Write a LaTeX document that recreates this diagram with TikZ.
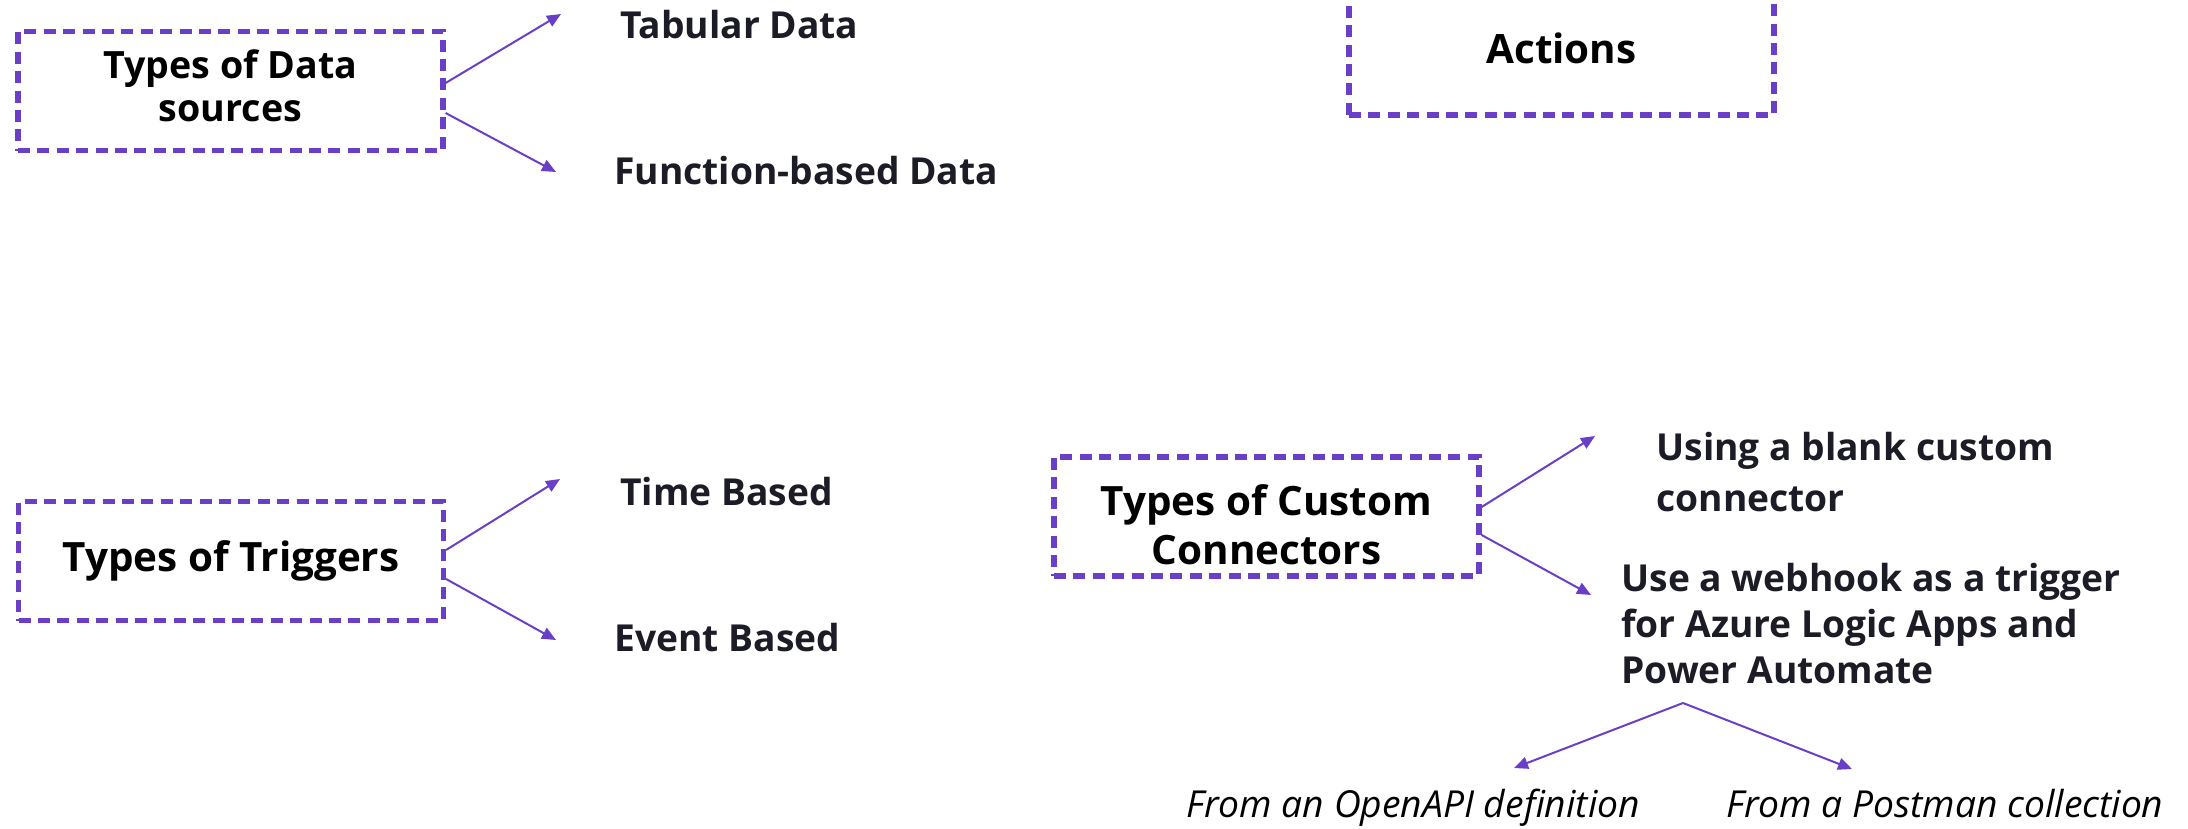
\documentclass[tikz,border=0pt]{standalone}
\usepackage{fontspec}
\setmainfont{Open Sans}
\usetikzlibrary{arrows.meta,calc}
\definecolor{violet}{HTML}{6A3FC8}
\definecolor{ink}{HTML}{1C1C26}
\tikzset{
  catbox/.style={draw=violet, line width=2.6pt, dash pattern=on 6pt off 3.7pt,
    minimum width=212.5pt, minimum height=59.5pt, inner sep=0pt, align=center,
    font=\bfseries\fontsize{20.2}{24.5}\selectfont, text=black},
  leaf/.style={inner sep=0pt, anchor=west, align=left, text=ink,
    font=\bfseries\fontsize{18.6}{23}\selectfont},
  source/.style={inner sep=0pt, anchor=west, text=black,
    font=\itshape\fontsize{18.6}{22}\selectfont},
  link/.style={draw=violet, line width=1pt, -{Triangle[length=7pt,width=6pt]}}
}
\begin{document}
\begin{tikzpicture}[x=0.5pt,y=-0.5pt]
\useasboundingbox (0,0) rectangle (2188,829);

% category boxes
\node[catbox, font=\bfseries\fontsize{18.8}{21.5}\selectfont] (data) at (230.5,91) {Types of Data\\sources\rule[-5pt]{0pt}{1pt}};
\node[catbox] (actions) at (1561.5,48) [minimum height=67pt] {Actions};
\node[catbox] (trig) at (231,561) {Types of Triggers};
\node[catbox] (custom) at (1266.5,516.5) {\rule{0pt}{24pt}Types of Custom\\Connectors};

% leaf labels
\node[leaf] (tab) at (620,25) {Tabular Data};
\node[leaf] (func) at (614,171) {Function-based Data};
\node[leaf] (time) at (620,492) {Time Based};
\node[leaf] (event) at (614,638) {Event Based};
\node[leaf, font=\bfseries\fontsize{18.6}{25.5}\selectfont] (blank) at (1656,472.5) {Using a blank custom\\connector};
\node[leaf] (hook) at (1621,624) {Use a webhook as a trigger\\for Azure Logic Apps and\\Power Automate};
\node[source] (openapi) at (1186,808) {From an OpenAPI definition};
\node[source] (postman) at (1726,804) {From a Postman collection};

% arrow tips and fork point
\coordinate (tabtip) at (561,14);
\coordinate (functip) at (556,172);
\coordinate (timetip) at (560,479);
\coordinate (eventtip) at (556,640);
\coordinate (blanktip) at (1595,436);
\coordinate (hooktip) at (1591,595);
\coordinate (fork) at (1683,703);
\coordinate (opentip) at (1514,768);
\coordinate (posttip) at (1852,769);

% connectors
\draw[link] ([yshift=4pt]data.east) -- (tabtip);
\draw[link] ([yshift=-11pt]data.east) -- (functip);
\draw[link] ([yshift=5.5pt]trig.east) -- (timetip);
\draw[link] ([yshift=-9pt]trig.east) -- (eventtip);
\draw[link] ([yshift=4.75pt]custom.east) -- (blanktip);
\draw[link] ([yshift=-9.25pt]custom.east) -- (hooktip);
\draw[link] (fork) -- (opentip);
\draw[link] (fork) -- (posttip);
\end{tikzpicture}
\end{document}
